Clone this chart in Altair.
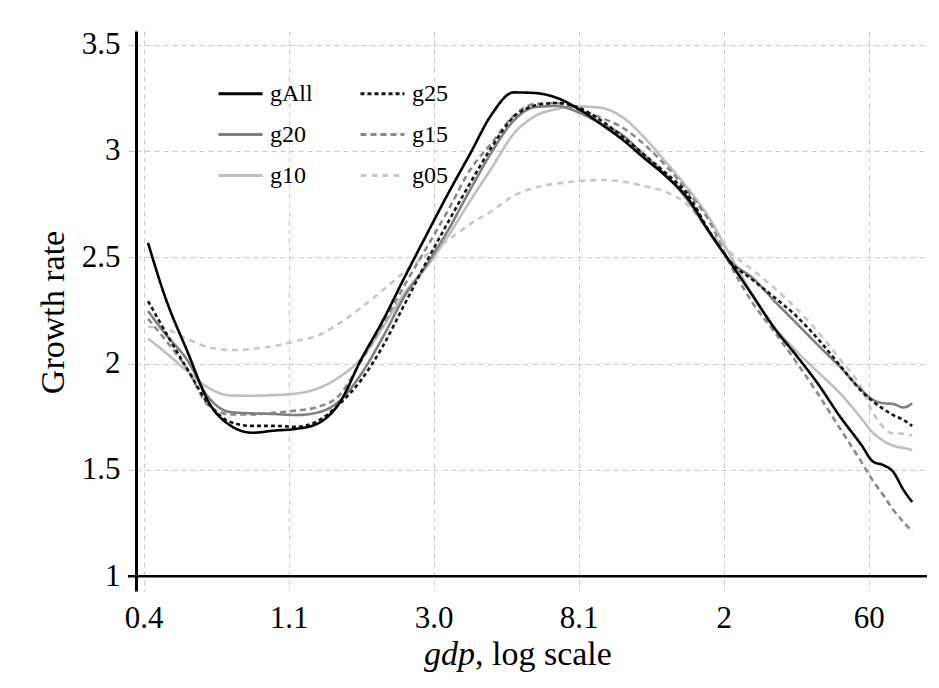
import altair as alt
import pandas as pd

# x = ln(gdp); tick labels show gdp values on a log scale
ln_gdp = [-0.87, -0.75, -0.6, -0.45, -0.3, -0.15, 0.0, 0.15, 0.3, 0.45, 0.6, 0.75, 0.9, 1.05,
          1.2, 1.35, 1.5, 1.65, 1.8, 1.95, 2.1, 2.25, 2.4, 2.55, 2.7, 2.85, 3.0, 3.15, 3.3,
          3.45, 3.6, 3.75, 3.9, 4.05, 4.13, 4.2, 4.27, 4.34, 4.4]

g_all = [2.567, 2.309, 2.059, 1.817, 1.708, 1.675, 1.685, 1.693, 1.718, 1.815, 2.02, 2.203,
         2.407, 2.605, 2.800, 2.985, 3.172, 3.275, 3.272, 3.249, 3.197, 3.128, 3.054, 2.967,
         2.882, 2.779, 2.619, 2.471, 2.319, 2.166, 2.039, 1.905, 1.753, 1.617, 1.539, 1.523,
         1.490, 1.406, 1.349]
g25 = [2.294, 2.149, 1.975, 1.808, 1.725, 1.707, 1.707, 1.703, 1.730, 1.810, 1.923, 2.083,
       2.280, 2.478, 2.666, 2.847, 3.018, 3.159, 3.213, 3.225, 3.204, 3.145, 3.068, 2.983,
       2.896, 2.797, 2.623, 2.475, 2.393, 2.311, 2.224, 2.116, 1.993, 1.871, 1.822, 1.787,
       1.758, 1.735, 1.707]
g20 = [2.247, 2.139, 2.017, 1.838, 1.772, 1.766, 1.763, 1.758, 1.770, 1.824, 1.951, 2.125,
       2.318, 2.464, 2.628, 2.816, 2.995, 3.141, 3.206, 3.211, 3.181, 3.129, 3.075, 2.981,
       2.887, 2.769, 2.619, 2.478, 2.402, 2.294, 2.191, 2.087, 1.986, 1.876, 1.829, 1.814,
       1.810, 1.794, 1.813]
g15 = [2.210, 2.111, 1.975, 1.801, 1.761, 1.761, 1.769, 1.779, 1.796, 1.852, 2.012, 2.186,
       2.370, 2.544, 2.722, 2.910, 3.037, 3.164, 3.221, 3.225, 3.192, 3.157, 3.110, 3.032,
       2.931, 2.811, 2.670, 2.459, 2.285, 2.149, 2.008, 1.857, 1.697, 1.537, 1.448, 1.382,
       1.312, 1.255, 1.210]
g10 = [2.118, 2.052, 1.965, 1.885, 1.850, 1.849, 1.852, 1.859, 1.883, 1.937, 2.024, 2.172,
       2.332, 2.454, 2.600, 2.764, 2.920, 3.079, 3.164, 3.197, 3.209, 3.203, 3.159, 3.065,
       2.948, 2.826, 2.685, 2.502, 2.323, 2.172, 2.059, 1.960, 1.862, 1.742, 1.674, 1.638,
       1.614, 1.603, 1.594]
g05 = [2.173, 2.163, 2.116, 2.076, 2.064, 2.069, 2.083, 2.106, 2.132, 2.190, 2.263, 2.346,
       2.431, 2.511, 2.581, 2.656, 2.717, 2.788, 2.828, 2.847, 2.858, 2.863, 2.856, 2.835,
       2.807, 2.746, 2.623, 2.520, 2.440, 2.355, 2.260, 2.150, 2.022, 1.885, 1.768, 1.702,
       1.671, 1.671, 1.662]

# legend fills column by column: gAll, g20, g10 | g25, g15, g05
series_names = ["gAll", "g20", "g10", "g25", "g15", "g05"]
series_colors = ["#000000", "#7f7f7f", "#bfbfbf", "#141414", "#8a8a8a", "#c8c8c8"]
series_dashes = [[1, 0], [1, 0], [1, 0], [4, 3], [6, 4], [6, 5]]

tick_pos = [-0.9, 0.1, 1.1, 2.1, 3.1, 4.1]
tick_labels = ["0.4", "1.1", "3.0", "8.1", "2", "60"]
y_ticks = [1, 1.5, 2, 2.5, 3, 3.5]

values = {"gAll": g_all, "g25": g25, "g20": g20, "g15": g15, "g10": g10, "g05": g05}
draw_order = ["g05", "g10", "g15", "g20", "g25", "gAll"]
rows = []
for name in draw_order:
    for xv, yv in zip(ln_gdp, values[name]):
        rows.append({"lngdp": xv, "growth": yv, "series": name})
df = pd.DataFrame(rows)

W, H = 791, 560
FONT = "Liberation Serif"
x_scale = alt.Scale(domain=[-0.9531, 4.502], nice=False, zero=False)
y_scale = alt.Scale(domain=[0.9309, 3.5637], nice=False, zero=False)

labels_js = "[" + ",".join("'" + s + "'" for s in tick_labels) + "]"
label_expr = labels_js + "[round(datum.value - (" + str(tick_pos[0]) + "))]"

lines = alt.Chart(df).mark_line(strokeWidth=2.6, interpolate="monotone").encode(
    x=alt.X("lngdp:Q", scale=x_scale,
            axis=alt.Axis(values=tick_pos, labelExpr=label_expr, title=None, domain=False,
                          ticks=False, tickSize=0, labelPadding=12, labelFontSize=31,
                          labelFont=FONT, labelColor="black", labelFlush=False,
                          labelOverlap=False, grid=True)),
    y=alt.Y("growth:Q", scale=y_scale,
            axis=alt.Axis(values=y_ticks, format="~g", title="Growth rate", domain=True,
                          domainColor="black", domainWidth=3, ticks=True, tickSize=8,
                          tickColor="#c8c8c8", labelPadding=8, labelFontSize=31,
                          labelFont=FONT, labelColor="black", labelFlush=False,
                          labelOverlap=False, grid=True, titleFont=FONT, titleFontSize=34,
                          titleFontWeight="normal", titleColor="black", titleAngle=270,
                          titleX=-73, titleY=281, titleAlign="center",
                          titleBaseline="alphabetic")),
    color=alt.Color("series:N", scale=alt.Scale(domain=series_names, range=series_colors),
                    title=None),
    strokeDash=alt.StrokeDash("series:N",
                              scale=alt.Scale(domain=series_names, range=series_dashes),
                              title=None),
)

axis_df = pd.DataFrame({"growth": [1]})
x_axis_line = alt.Chart(axis_df).mark_rule(color="black", strokeWidth=2.5).encode(
    y=alt.Y("growth:Q", scale=y_scale), x=alt.value(-8), x2=alt.value(W)
)

one = pd.DataFrame({"k": [0]})
t_gdp = alt.Chart(one).mark_text(text="gdp", font=FONT, fontSize=34, fontStyle="italic",
                                 align="right", baseline="alphabetic", color="black").encode(
    x=alt.value(339), y=alt.value(634))
t_rest = alt.Chart(one).mark_text(text=", log scale", font=FONT, fontSize=34,
                                  align="left", baseline="alphabetic", color="black").encode(
    x=alt.value(339), y=alt.value(634))

border_top = alt.Chart(one).mark_rule(color="#e3ebeb", strokeWidth=1).encode(
    x=alt.value(-129), x2=alt.value(W + 4), y=alt.value(-25))
border_left = alt.Chart(one).mark_rule(color="#e3ebeb", strokeWidth=1).encode(
    x=alt.value(-129), y=alt.value(-25), y2=alt.value(H + 89))

chart = alt.layer(lines, x_axis_line, t_gdp, t_rest, border_top, border_left).properties(
    width=W, height=H,
    autosize=alt.AutoSizeParams(type="none"),
    padding={"left": 128, "top": 23, "right": 4, "bottom": 89},
).configure_view(stroke=None).configure_axis(
    gridColor="#c8c8c8", gridDash=[5, 4], gridWidth=1
).configure_legend(
    orient="none", legendX=81, legendY=39, columns=2, symbolType="stroke",
    symbolSize=1936, symbolStrokeWidth=3, labelFont=FONT, labelFontSize=24,
    labelColor="black", labelOffset=6, columnPadding=41, rowPadding=5, padding=0,
    symbolLimit=0
)

chart.save("out.html", embed_options={"renderer": "svg", "actions": False})
